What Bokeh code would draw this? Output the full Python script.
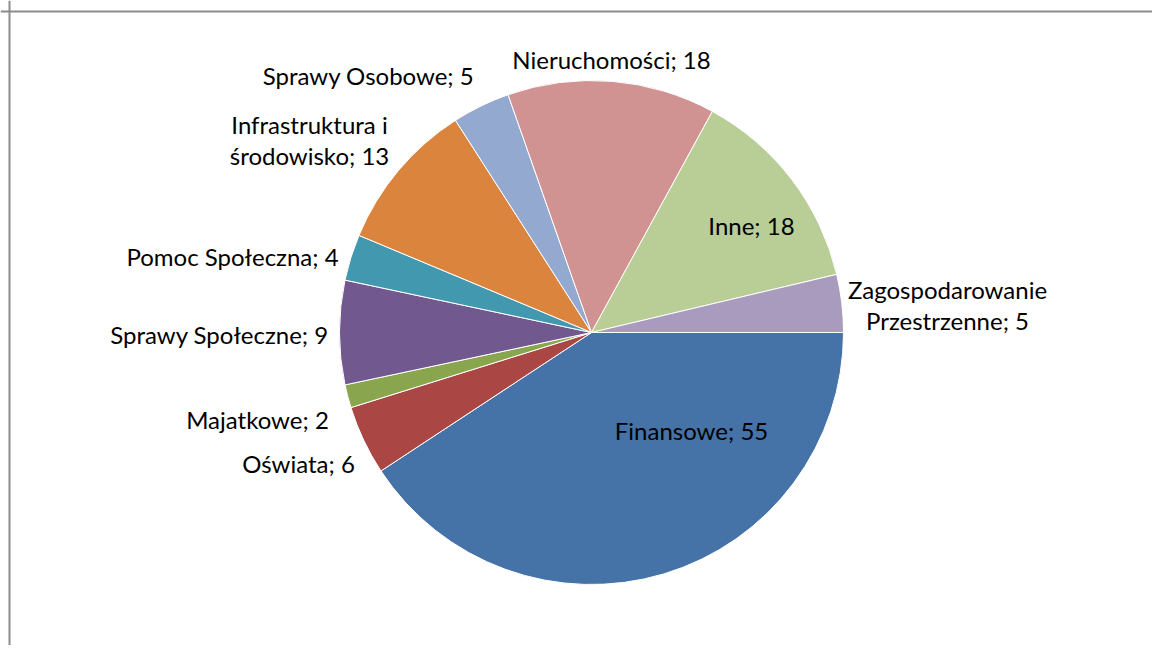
import math
from bokeh.plotting import figure
from bokeh.models import Range1d, Span, ColumnDataSource
from bokeh.embed import file_html
from bokeh.resources import INLINE
from bokeh.core.properties import value

# ---- data ----
categories = ["Finansowe", "Oświata", "Majatkowe", "Sprawy Społeczne",
              "Pomoc Społeczna", "Infrastruktura i środowisko", "Sprawy Osobowe",
              "Nieruchomości", "Inne", "Zagospodarowanie Przestrzenne"]
counts = [55, 6, 2, 9, 4, 13, 5, 18, 18, 5]
colors = ["#4572A7", "#AA4643", "#89A54E", "#71588F", "#4198AF",
          "#DB843D", "#93A9CF", "#D19392", "#B9CD96", "#A99BBD"]

# ---- layout (pixels) ----
W, H = 1152, 645
cx_page, cy_page, R = 591, 332, 252
# label anchor (center x, first baseline y) offsets from pie centre, in px (page down = +)
label_offsets = [(100, 106), (-293, 139), (-334, 95), (-372, 10), (-359, -68),
                 (-282, -200), (-223, -249), (20, -265), (160, -99), (356, -35)]
wrap_words = {5: 2, 9: 1}
line_gap = 31
baseline_fix = -8
FONT = "Lato"
FONT_SIZE = "24px"

def to_data(px, py):
    return px, H - py

p = figure(width=W, height=H, output_backend="svg", toolbar_location=None,
           x_range=Range1d(0, W), y_range=Range1d(0, H), min_border=0)
p.axis.visible = False
p.grid.visible = False
p.outline_line_color = None
p.background_fill_color = "white"
p.border_fill_color = "white"

total = sum(counts)
starts, ends = [], []
cum = 0
for c in counts:
    starts.append(-2 * math.pi * cum / total)
    cum += c
    ends.append(-2 * math.pi * cum / total)

cx, cy = to_data(cx_page, cy_page)
src = ColumnDataSource(dict(start=starts, end=ends, color=colors, cat=categories, n=counts))
p.wedge(x=cx, y=cy, radius=R, start_angle="start", end_angle="end", direction="clock",
        fill_color="color", line_color="white", line_width=1, source=src)

tx, ty, tt = [], [], []
for i, (cat, n) in enumerate(zip(categories, counts)):
    label = f"{cat}; {n}"
    if i in wrap_words:
        words = label.split(" ")
        lines = [" ".join(words[:wrap_words[i]]), " ".join(words[wrap_words[i]:])]
    else:
        lines = [label]
    dx, dy = label_offsets[i]
    for k, line in enumerate(lines):
        x, y = to_data(cx_page + dx, cy_page + dy + baseline_fix + k * line_gap)
        tx.append(x); ty.append(y); tt.append(line)

p.text(x=tx, y=ty, text=tt, text_font=value(FONT), text_font_size=FONT_SIZE,
       text_align="center", text_baseline="alphabetic", text_color="#000000")

# frame lines (left and top)
fx, fy = to_data(9, 11)
p.add_layout(Span(location=fx, dimension="height", line_color="#8C8C8C", line_width=2))
p.add_layout(Span(location=fy, dimension="width", line_color="#8C8C8C", line_width=2))

open("out.html", "w").write(file_html(p, INLINE))
